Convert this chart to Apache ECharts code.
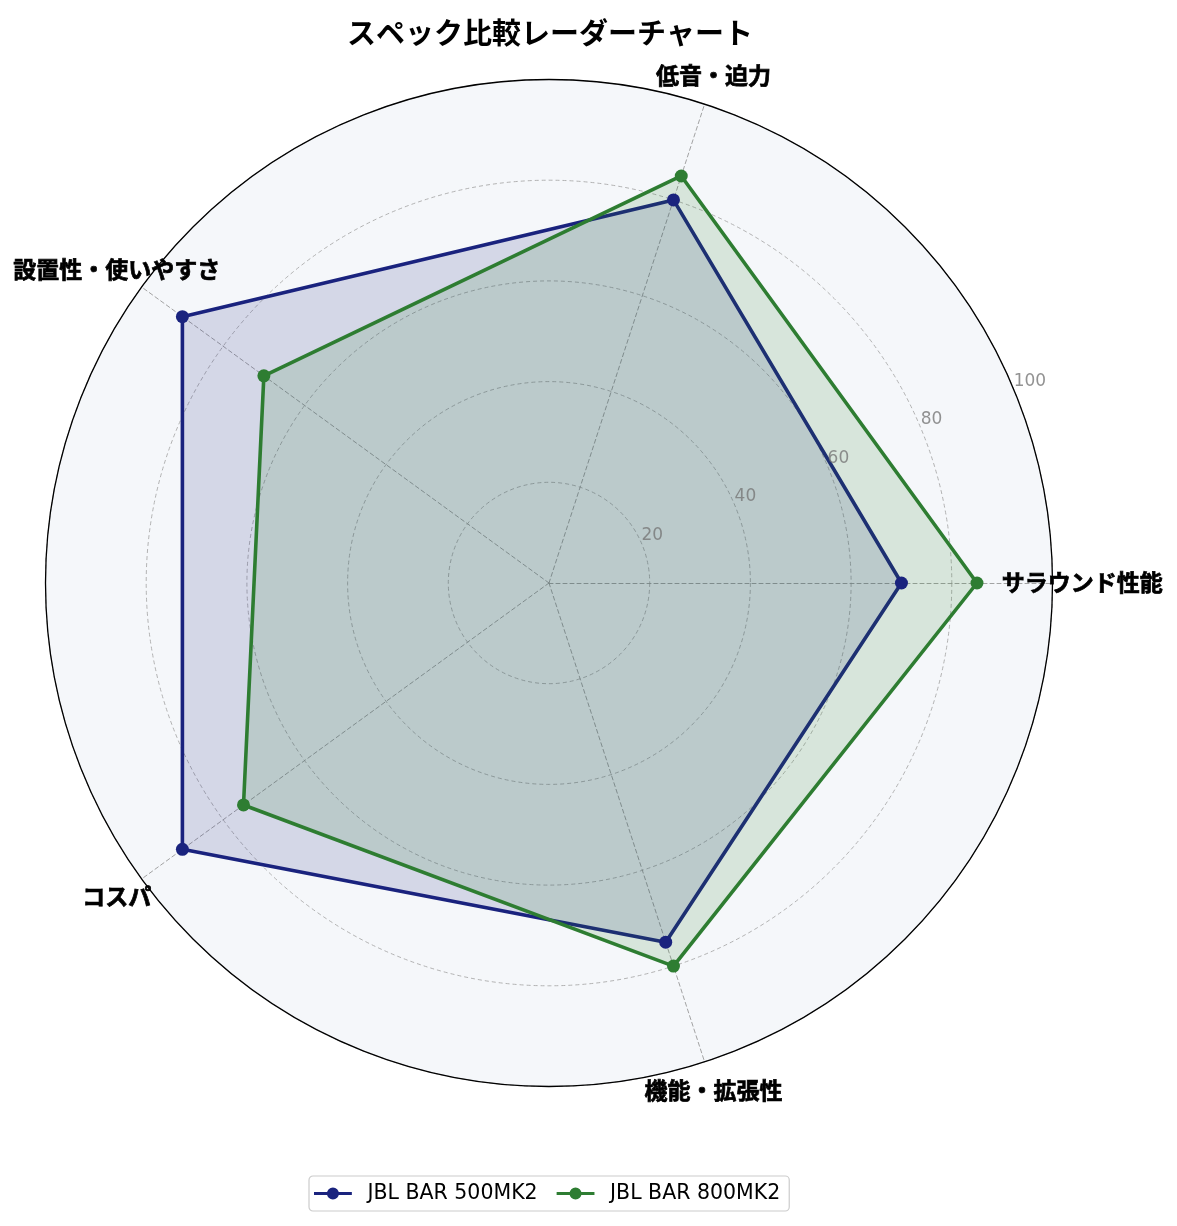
<!DOCTYPE html>
<html>
<head>
<meta charset="utf-8">
<script src="https://cdn.jsdelivr.net/npm/echarts@6/dist/echarts.min.js"></script>
<style>
html,body{margin:0;padding:0;background:#fff;}
#chart{width:1177px;height:1226px;}
</style>
</head>
<body>
<div id="chart"></div>
<script>
const titleText = 'スペック比較レーダーチャート';
const categories = ['サラウンド性能', '低音・迫力', '設置性・使いやすさ', 'コスパ', '機能・拡張性'];
const seriesNames = ['JBL BAR 500MK2', 'JBL BAR 800MK2'];
const values500 = [70, 80, 90, 90, 75];
const values800 = [85, 85, 70, 75, 80];
const tickLabels = [20, 40, 60, 80, 100];
const colors = ['#1a237e', '#2e7d32'];

const CENTER = [549, 583];
const RADIUS = 503.5;
const LABEL_R = 106;
const TICK_ANGLE = 22.5;
const step = 360 / categories.length;

const chart = echarts.init(document.getElementById('chart'), null, {renderer: 'canvas'});
const legendIcon = 'path://M0,4.5H41V7.5H0Z M27,6A6.5,6.5 0 1 1 14,6A6.5,6.5 0 1 1 27,6Z';

const option = {
  backgroundColor: '#ffffff',
  animation: false,
  title: {
    text: titleText,
    left: 545,
    top: 13,
    textAlign: 'center',
    textStyle: {fontFamily: 'Noto Sans CJK JP', fontWeight: 'bold', fontSize: 29, color: '#000'}
  },
  legend: {
    data: seriesNames.map((n, i) => ({name: n, icon: legendIcon, itemStyle: {color: colors[i]}})),
    left: 309,
    top: 1176,
    itemWidth: 41,
    itemHeight: 12,
    itemGap: 19,
    padding: [7, 9, 7, 5],
    borderColor: '#cccccc',
    borderWidth: 1.2,
    borderRadius: 4,
    textStyle: {fontFamily: 'DejaVu Sans', fontSize: 20.5, color: '#000', padding: [0, 0, 0, 9]}
  },
  radar: {
    center: CENTER,
    radius: RADIUS,
    startAngle: 0,
    shape: 'circle',
    splitNumber: 5,
    z: 0,
    indicator: categories.map(c => ({name: c, min: 0, max: 100})),
    axisName: {show: false},
    axisLine: {lineStyle: {color: '#999999', type: [4, 3], width: 0.9}},
    splitLine: {lineStyle: {color: '#aaaaaa', type: [4, 3], width: 0.9}},
    splitArea: {show: true, areaStyle: {color: ['#f5f7fa']}},
    axisTick: {show: false},
    axisLabel: {show: false}
  },
  polar: {center: CENTER, radius: RADIUS},
  angleAxis: {
    type: 'value', min: 0, max: 360, startAngle: 0, clockwise: false, z: 5,
    axisLine: {lineStyle: {color: '#000000', width: 1.3}},
    axisTick: {show: false}, axisLabel: {show: false}, splitLine: {show: false}
  },
  radiusAxis: {
    type: 'value', min: 0, max: 100,
    axisLine: {show: false}, axisTick: {show: false}, axisLabel: {show: false}, splitLine: {show: false}
  },
  series: [
    {
      type: 'radar',
      symbol: 'circle',
      symbolSize: 13,
      z: 2,
      data: [
        {
          name: seriesNames[0], value: values500,
          lineStyle: {color: colors[0], width: 3.6},
          itemStyle: {color: colors[0]},
          areaStyle: {color: colors[0], opacity: 0.15}
        },
        {
          name: seriesNames[1], value: values800,
          lineStyle: {color: colors[1], width: 3.6},
          itemStyle: {color: colors[1]},
          areaStyle: {color: colors[1], opacity: 0.15}
        }
      ]
    },
    {
      type: 'scatter',
      coordinateSystem: 'polar',
      silent: true,
      clip: false,
      symbolSize: 1,
      itemStyle: {color: 'rgba(0,0,0,0)'},
      z: 6,
      label: {
        show: true, position: [0, 0], align: 'center', verticalAlign: 'middle', formatter: '{b}',
        textBorderColor: '#000000', textBorderWidth: 0.7, opacity: 1,
        fontFamily: 'Noto Sans CJK JP', fontWeight: 'bold', fontSize: 23, color: '#000000'
      },
      data: categories.map((c, i) => ({name: c, value: [LABEL_R, i * step]}))
    },
    {
      type: 'scatter',
      coordinateSystem: 'polar',
      silent: true,
      clip: false,
      symbolSize: 1,
      itemStyle: {color: 'rgba(0,0,0,0)'},
      z: 6,
      label: {
        show: true, position: [0, 0], align: 'left', verticalAlign: 'bottom',
        formatter: p => String(p.value[0]),
        textBorderWidth: 0,
        fontFamily: 'DejaVu Sans', fontSize: 17, color: '#777777'
      },
      data: tickLabels.map(t => ({value: [t, TICK_ANGLE]}))
    }
  ]
};
chart.setOption(option);
</script>
</body>
</html>
